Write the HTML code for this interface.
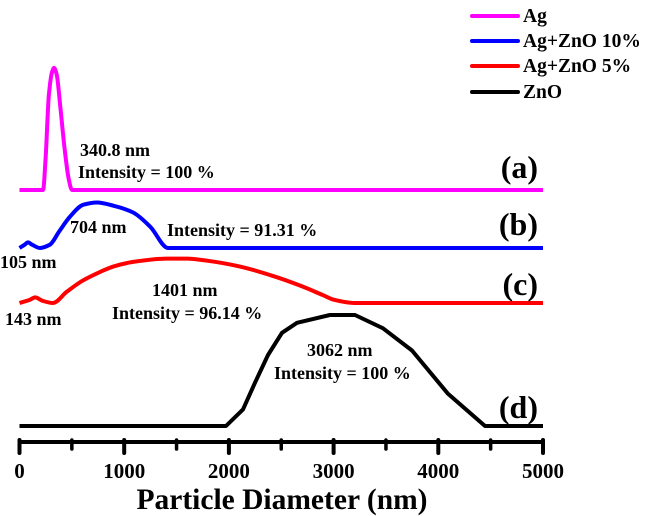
<!DOCTYPE html>
<html><head><meta charset="utf-8"><style>
html,body{margin:0;padding:0;background:#fff;}
svg{display:block;font-family:"Liberation Serif",serif;font-weight:bold;}
</style></head><body>
<svg id="chart" width="646" height="516" viewBox="0 0 646 516" xmlns="http://www.w3.org/2000/svg">
<g id="series"></g>
<g id="axis"></g>
<g font-size="18">
<text x="80" y="156">340.8 nm</text>
<text x="78" y="178">Intensity = 100 %</text>
<text x="70" y="233">704 nm</text>
<text x="167" y="236">Intensity = 91.31 %</text>
<text x="0" y="268">105 nm</text>
<text x="152" y="296">1401 nm</text>
<text x="112" y="319">Intensity = 96.14 %</text>
<text x="5" y="325">143 nm</text>
<text x="307" y="356">3062 nm</text>
<text x="274" y="379">Intensity = 100 %</text>
</g>
<g font-size="32" text-anchor="end">
<text x="538" y="178">(a)</text>
<text x="538" y="235">(b)</text>
<text x="538" y="295">(c)</text>
<text x="538" y="418">(d)</text>
</g>
<g font-size="19.5">
<line x1="472" y1="16" x2="518" y2="16" stroke="#ff00ff" stroke-width="4" stroke-linecap="round"/>
<text x="523" y="22">Ag</text>
<line x1="472" y1="41" x2="518" y2="41" stroke="#0000ff" stroke-width="4" stroke-linecap="round"/>
<text x="523" y="47">Ag+ZnO 10%</text>
<line x1="472" y1="66" x2="518" y2="66" stroke="#ff0000" stroke-width="4" stroke-linecap="round"/>
<text x="523" y="72">Ag+ZnO 5%</text>
<line x1="472" y1="92" x2="518" y2="92" stroke="#000" stroke-width="4" stroke-linecap="round"/>
<text x="523" y="98">ZnO</text>
</g>
<text x="282" y="509" font-size="29.5" text-anchor="middle">Particle Diameter (nm)</text>
</svg>
<script>
const agX = [0, 225, 250, 280, 310, 330, 355, 390, 430, 470, 501, 5000];
const agY = [0, 0, 30, 85, 106, 110, 104, 75, 38, 10, 0, 0];
const b10X = [0, 50, 80, 120, 195, 290, 380, 480, 610, 740, 900, 1085, 1250, 1420, 5000];
const b10Y = [0, 3, 5, 3, 0, 3, 15, 28, 39, 41, 38, 32, 19, 0, 0];
const c5X = [0, 100, 150, 220, 320, 450, 600, 770, 900, 1085, 1400, 1600, 1800, 2100, 2400, 2700, 2900, 3000, 3200, 5000];
const c5Y = [0, 3, 5, 2, 0, 10, 20, 28, 33, 37, 40, 40, 38, 33, 25, 15, 7, 3, 0, 0];
const znoX = [0, 1972, 2135, 2249, 2373, 2507, 2650, 2965, 3204, 3472, 3749, 4093, 4446, 5000];
const znoY = [0, 0, 15, 39, 64, 84, 93, 100, 100, 88, 68, 29, 0, 0];
const tickValues = [0, 1000, 2000, 3000, 4000, 5000];
const tickLabels = ["0", "1000", "2000", "3000", "4000", "5000"];
const minorTicks = [500, 1500, 2500, 3500, 4500];

const NS = "http://www.w3.org/2000/svg";
function xs(v){ return 19.5 + v * 0.1047; }
function ys(base, v){ return base - v * 1.11; }

const seriesG = document.getElementById('series');
function smoothPath(P){
  const n = P.length, s = [], m = [];
  for (let i = 0; i < n-1; i++) s.push((P[i+1][1]-P[i][1])/(P[i+1][0]-P[i][0]));
  m.push(s[0]);
  for (let i = 1; i < n-1; i++){
    if (s[i-1]*s[i] <= 0) m.push(0);
    else {
      const h0 = P[i][0]-P[i-1][0], h1 = P[i+1][0]-P[i][0];
      m.push(3*(h0+h1)/((2*h1+h0)/s[i-1] + (h1+2*h0)/s[i]));
    }
  }
  m.push(s[n-2]);
  let d = 'M' + P[0][0].toFixed(1) + ',' + P[0][1].toFixed(1);
  for (let i = 0; i < n-1; i++){
    const h = (P[i+1][0]-P[i][0])/3;
    d += ' C' + (P[i][0]+h).toFixed(1)+','+(P[i][1]+m[i]*h).toFixed(1)+' '+(P[i+1][0]-h).toFixed(1)+','+(P[i+1][1]-m[i+1]*h).toFixed(1)+' '+P[i+1][0].toFixed(1)+','+P[i+1][1].toFixed(1);
  }
  return d;
}
function drawSeries(X, Y, base, color, name, smooth){
  const P = X.map((x,i)=>[xs(x), ys(base, Y[i])]);
  const p = document.createElementNS(NS, 'path');
  p.setAttribute('d', smooth ? smoothPath(P) : 'M' + P.map(q=>q[0].toFixed(1)+','+q[1].toFixed(1)).join(' L'));
  p.setAttribute('fill','none');
  p.setAttribute('stroke',color);
  p.setAttribute('stroke-width','4');
  p.setAttribute('stroke-linejoin','round');
  
  
  seriesG.appendChild(p);
}
drawSeries(agX, agY, 190, '#ff00ff', 'series-ag', true);
drawSeries(b10X, b10Y, 248, '#0000ff', 'series-ag-zno-10', true);
drawSeries(c5X, c5Y, 303, '#ff0000', 'series-ag-zno-5', true);
drawSeries(znoX, znoY, 426, '#000000', 'series-zno', false);

const axisG = document.getElementById('axis');
const ax = document.createElementNS(NS,'line');
ax.setAttribute('x1', xs(0)); ax.setAttribute('x2', xs(5000));
ax.setAttribute('y1', 442); ax.setAttribute('y2', 442);
ax.setAttribute('stroke','#000'); ax.setAttribute('stroke-width','4');


axisG.appendChild(ax);
tickValues.forEach((v,i)=>{
  const t = document.createElementNS(NS,'line');
  t.setAttribute('x1', xs(v)); t.setAttribute('x2', xs(v));
  t.setAttribute('y1', 440); t.setAttribute('y2', 453);
  t.setAttribute('stroke','#000'); t.setAttribute('stroke-width','4');
  t.setAttribute('stroke-linecap','round');
  
  
  axisG.appendChild(t);
  const l = document.createElementNS(NS,'text');
  l.setAttribute('x', xs(v)); l.setAttribute('y', 478);
  l.setAttribute('text-anchor','middle'); l.setAttribute('font-size','21');
  l.textContent = tickLabels[i];
  
  
  axisG.appendChild(l);
});
minorTicks.forEach(v=>{
  const t = document.createElementNS(NS,'line');
  t.setAttribute('x1', xs(v)); t.setAttribute('x2', xs(v));
  t.setAttribute('y1', 440); t.setAttribute('y2', 449);
  t.setAttribute('stroke','#000'); t.setAttribute('stroke-width','3.5');
  t.setAttribute('stroke-linecap','round');
  
  
  axisG.appendChild(t);
});
</script>
</body></html>
